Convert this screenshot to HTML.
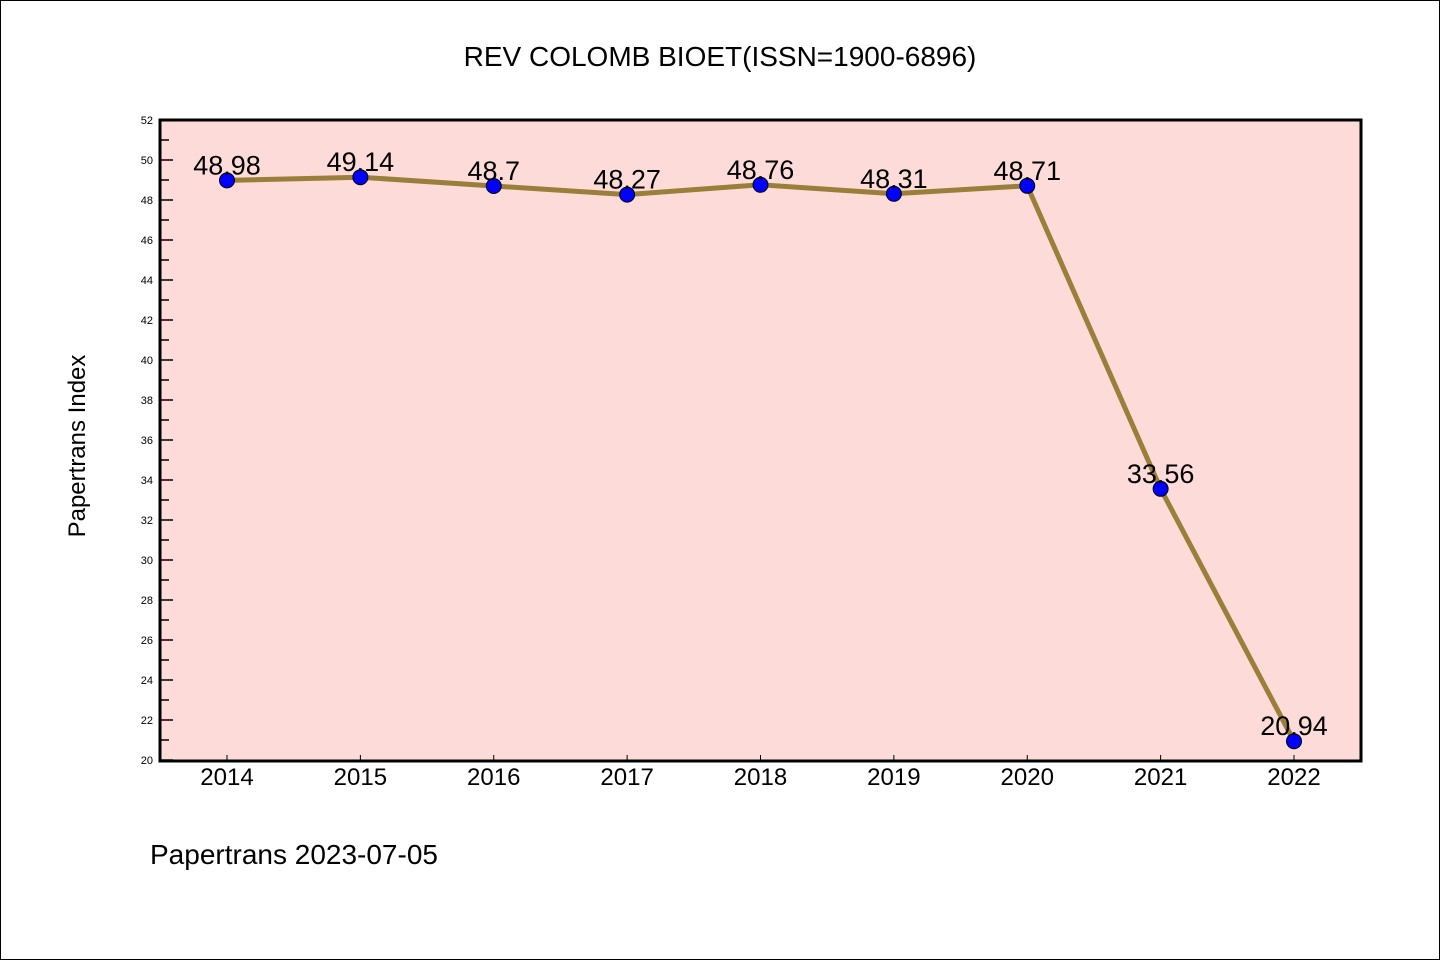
<!DOCTYPE html>
<html><head><meta charset="utf-8"><style>
body{margin:0;background:#fff}
svg text{font-family:"Liberation Sans","DejaVu Sans",sans-serif}
</style></head><body>
<svg id="chart" width="1440" height="960" xmlns="http://www.w3.org/2000/svg">
<rect x="0.5" y="0.5" width="1439" height="959" fill="#fff" stroke="#000"/>
<text x="720" y="66" text-anchor="middle" font-size="28">REV COLOMB BIOET(ISSN=1900-6896)</text>
<rect x="160" y="120" width="1201" height="641" fill="#fddbd8"/>
<g id="yaxis"></g><g id="xaxis"></g><g id="series"></g>
<rect x="160" y="120" width="1201" height="641" fill="none" stroke="#000" stroke-width="3"/>
<text transform="translate(85,446) rotate(-90)" text-anchor="middle" font-size="24">Papertrans Index</text>
<text x="150" y="864" font-size="28">Papertrans 2023-07-05</text>
</svg>
<script>
const years=["2014","2015","2016","2017","2018","2019","2020","2021","2022"];
const values=[48.98,49.14,48.7,48.27,48.76,48.31,48.71,33.56,20.94];
const labels=["48.98","49.14","48.7","48.27","48.76","48.31","48.71","33.56","20.94"];
const yMin=20,yMax=52;
const NS="http://www.w3.org/2000/svg";
const X=i=>227+i*(1294-227)/(years.length-1);
const Y=v=>760-(v-yMin)*(640/(yMax-yMin));
function mk(t,a,p){const e=document.createElementNS(NS,t);for(const k in a)e.setAttribute(k,a[k]);p.appendChild(e);return e;}
const ya=document.getElementById('yaxis');
for(let v=yMin;v<=yMax;v++){
 const major=v%2===0;
 const l=mk('line',{x1:160,x2:major?173:169,y1:Y(v),y2:Y(v),stroke:'#000','stroke-width':1.5},ya);
 
 
 if(major){const t=mk('text',{x:153,y:Y(v)+4,'text-anchor':'end','font-size':11},ya);t.textContent=v;
 
 }
}
const xa=document.getElementById('xaxis');
years.forEach((y,i)=>{
 const l=mk('line',{x1:X(i),x2:X(i),y1:755,y2:761,stroke:'#000','stroke-width':1},xa);
 
 
 const t=mk('text',{x:X(i),y:785,'text-anchor':'middle','font-size':24},xa);t.textContent=y;
 
 
});
const s=document.getElementById('series');
const pl=mk('polyline',{points:values.map((v,i)=>X(i)+','+Y(v)).join(' '),fill:'none',stroke:'#9a7f3a','stroke-width':5},s);


values.forEach((v,i)=>{
 const c=mk('circle',{cx:X(i),cy:Y(v),r:7.5,fill:'#0000ff',stroke:'#000','stroke-width':1},s);
 
 
 const t=mk('text',{x:X(i),y:Y(v)-6,'text-anchor':'middle','font-size':27},s);t.textContent=labels[i];
 
 
});
</script>
</body></html>
